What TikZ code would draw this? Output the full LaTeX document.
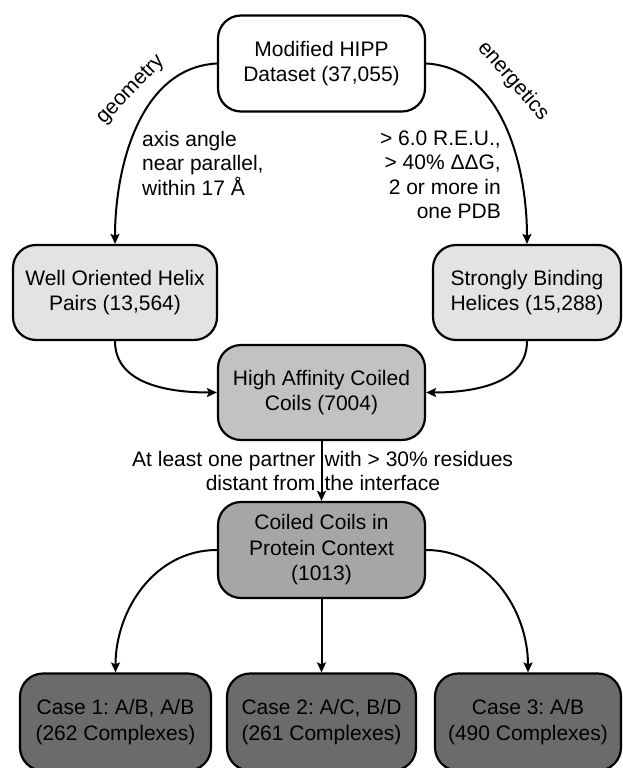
\documentclass[tikz,border=0pt]{standalone}
\usepackage{fontspec}
\setmainfont{Liberation Sans}
\usetikzlibrary{arrows.meta,positioning}
\frenchspacing

\definecolor{boxlight}{gray}{0.89}
\definecolor{boxmid}{gray}{0.76}
\definecolor{boxdark}{gray}{0.65}
\definecolor{boxcase}{gray}{0.42}

\begin{document}
\begin{tikzpicture}[x=1pt, y=-1pt,
  box/.style={rectangle, draw, line width=2.2pt, rounded corners=23pt,
              minimum width=207pt, minimum height=96pt, align=center,
              inner sep=0pt, font=\fontsize{21}{25.5}\selectfont},
  note/.style={font=\fontsize{21}{24.5}\selectfont, inner sep=2pt},
  flow/.style={draw, line width=2pt, -{Stealth[length=10pt, width=9pt, inset=2pt]}},
]
  \useasboundingbox (0,0) rectangle (622,768);

  % ===== Source dataset =====
  \node[box, fill=white] (hipp) at (321.5, 63.5) {Modified HIPP\\ Dataset (37,055)};

  % ===== Filter stage =====
  \node[box, fill=boxlight, minimum width=204pt, minimum height=95pt] (orient) at (115, 292.5)
       {Well Oriented Helix\\ Pairs (13,564)};
  \node[box, fill=boxlight, minimum width=188pt, minimum height=95pt] (binding) at (527, 292.5)
       {Strongly Binding\\ Helices (15,288)};

  \draw[flow] (hipp.west) to[out=183, in=90, looseness=0.95] (orient.north);
  \draw[flow] (hipp.east) to[out=-3, in=90, looseness=0.95] (binding.north);

  \node[note, rotate=46] (geomlbl) at (131, 90) {geometry};
  \node[note, rotate=-49] (enerlbl) at (513, 81) {energetics};

  \node[note, anchor=west, align=left] (geomtxt) at (140, 163)
       {axis angle\\ near parallel,\\ within 17 Å};
  \node[note, anchor=east, align=right] (enertxt) at (503, 175)
       {> 6.0 R.E.U.,\\ > 40\% ΔΔG,\\ 2 or more in\\ one PDB};

  % ===== Combined set =====
  \node[box, fill=boxmid, minimum height=95pt] (affinity) at (321.5, 392.5)
       {High Affinity Coiled\\ Coils (7004)};
  \draw[flow] (orient.south) to[out=-90, in=180] (affinity.west);
  \draw[flow] (binding.south) to[out=-90, in=0] (affinity.east);

  % ===== Protein context =====
  \node[box, fill=boxdark] (context) at (321.5, 550)
       {Coiled Coils in\\ Protein Context\\ (1013)};
  \draw[flow] (affinity.south) -- (context.north)
        node[midway, left, note, align=right, xshift=-3pt] {At least one partner\\ distant from}
        node[midway, right, note, align=left] {with > 30\% residues\\ the interface};

  % ===== Cases =====
  \node[box, fill=boxcase, minimum width=191pt, minimum height=97pt] (case1) at (115.5, 722)
       {Case 1: A/B, A/B\\ (262 Complexes)};
  \node[box, fill=boxcase, minimum width=189pt, minimum height=97pt] (case2) at (321.5, 722)
       {Case 2: A/C, B/D\\ (261 Complexes)};
  \node[box, fill=boxcase, minimum width=186pt, minimum height=97pt] (case3) at (528, 722)
       {Case 3: A/B\\ (490 Complexes)};

  \draw[flow] (context.west) to[out=180, in=90] (case1.north);
  \draw[flow] (context.south) -- (case2.north);
  \draw[flow] (context.east) to[out=0, in=90] (case3.north);

\end{tikzpicture}
\end{document}
